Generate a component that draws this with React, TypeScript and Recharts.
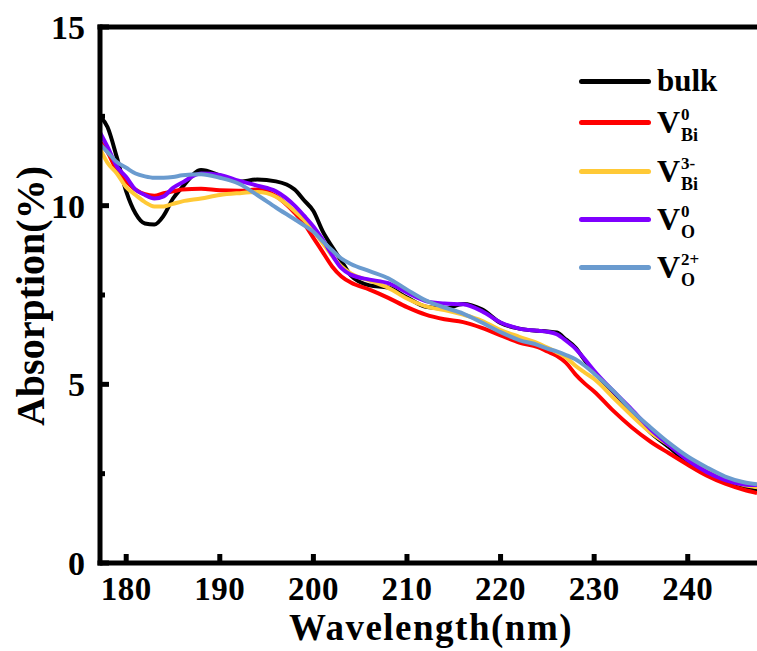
import React from 'react'
import { LineChart, Line, XAxis, YAxis, ReferenceLine } from 'recharts'

// wavelength grid (nm) and absorption (%)
const wavelength = [177.2, 178, 179, 180, 181, 182, 183, 184, 185, 186, 188, 190, 192, 194, 196, 198, 199, 200, 201, 202, 203, 204, 206, 208, 210, 212, 214, 216, 218, 220, 222, 224, 225, 226, 227, 228, 229, 230, 232, 234, 236, 238, 240, 242, 244, 246, 247.4]

const bulk = [12.5, 12.2, 11.35, 10.4, 9.78, 9.5, 9.47, 9.72, 10.2, 10.52, 11.0, 10.85, 10.67, 10.73, 10.68, 10.45, 10.15, 9.85, 9.28, 8.85, 8.45, 8.05, 7.77, 7.71, 7.43, 7.17, 7.12, 7.25, 7.1, 6.72, 6.56, 6.5, 6.48, 6.45, 6.25, 6.03, 5.67, 5.34, 4.8, 4.22, 3.66, 3.24, 2.82, 2.5, 2.25, 2.1, 2.02]
const vBi0 = [11.8, 11.5, 10.98, 10.68, 10.45, 10.32, 10.28, 10.35, 10.4, 10.45, 10.47, 10.43, 10.42, 10.45, 10.27, 9.8, 9.5, 9.1, 8.7, 8.3, 8.02, 7.85, 7.65, 7.42, 7.16, 6.95, 6.82, 6.74, 6.58, 6.37, 6.17, 6.04, 5.92, 5.8, 5.6, 5.28, 5.02, 4.8, 4.27, 3.8, 3.4, 3.07, 2.75, 2.45, 2.22, 2.05, 1.96]
const vBi3 = [11.6, 11.2, 10.9, 10.52, 10.3, 10.1, 9.98, 9.98, 10.05, 10.12, 10.2, 10.3, 10.35, 10.38, 10.25, 9.85, 9.6, 9.3, 8.95, 8.6, 8.3, 8.1, 7.9, 7.7, 7.4, 7.18, 7.08, 6.95, 6.78, 6.52, 6.33, 6.15, 6.03, 5.9, 5.75, 5.52, 5.33, 5.15, 4.64, 4.13, 3.66, 3.3, 2.93, 2.62, 2.35, 2.18, 2.12]
const vO0 = [12.05, 11.65, 11.1, 10.8, 10.45, 10.3, 10.2, 10.26, 10.5, 10.65, 10.9, 10.86, 10.7, 10.56, 10.4, 10.0, 9.72, 9.42, 9.05, 8.62, 8.25, 8.07, 7.93, 7.83, 7.57, 7.33, 7.26, 7.24, 7.05, 6.73, 6.56, 6.5, 6.47, 6.4, 6.22, 6.0, 5.7, 5.38, 4.82, 4.3, 3.75, 3.3, 2.88, 2.55, 2.32, 2.2, 2.18]
const vO2 = [11.72, 11.5, 11.22, 11.06, 10.9, 10.82, 10.78, 10.78, 10.8, 10.85, 10.88, 10.78, 10.62, 10.3, 9.95, 9.62, 9.45, 9.27, 9.0, 8.75, 8.52, 8.37, 8.17, 7.97, 7.65, 7.35, 7.15, 6.98, 6.73, 6.46, 6.24, 6.1, 6.0, 5.92, 5.82, 5.7, 5.52, 5.3, 4.83, 4.27, 3.8, 3.36, 2.98, 2.68, 2.42, 2.26, 2.2]

const xTicks = [180, 190, 200, 210, 220, 230, 240]
const yTicks = [0, 2.5, 5, 7.5, 10, 12.5, 15]

// sup / sub null => plain label
const series = [
  { key: 'bulk', color: '#000000', sup: null, sub: null },
  { key: 'vBi0', color: '#ff0000', sup: '0', sub: 'Bi' },
  { key: 'vBi3', color: '#ffc936', sup: '3-', sub: 'Bi' },
  { key: 'vO0', color: '#7f00ff', sup: '0', sub: 'O' },
  { key: 'vO2', color: '#6a9bcf', sup: '2+', sub: 'O' },
]

const data = wavelength.map((wl, i) => ({
  wl,
  bulk: bulk[i],
  vBi0: vBi0[i],
  vBi3: vBi3[i],
  vO0: vO0[i],
  vO2: vO2[i],
}))

const FONT = "'Liberation Serif', 'Times New Roman', serif"
const W = 757
const H = 651
const PLOT_LEFT = 100
const PLOT_TOP = 27
const PLOT_BOTTOM = 563

const rowCenters = [81, 122, 171, 219, 267]

const YTick = (props: any) => {
  const { y, payload } = props
  const v = payload.value
  const major = v % 5 === 0
  return (
    <g>
      <line x1={PLOT_LEFT} x2={PLOT_LEFT + (major ? 9 : 5)} y1={y} y2={y} stroke="#000" strokeWidth={5} />
      {major && (
        <text x={PLOT_LEFT - 15} y={y + 12} textAnchor="end" fontFamily={FONT} fontWeight="bold" fontSize={34} fill="#000">
          {v}
        </text>
      )}
    </g>
  )
}

const XTick = (props: any) => {
  const { x, payload } = props
  return (
    <g>
      <line x1={x} x2={x} y1={PLOT_BOTTOM} y2={PLOT_BOTTOM - 9} stroke="#000" strokeWidth={5} />
      <text x={x} y={600} textAnchor="middle" fontFamily={FONT} fontWeight="bold" fontSize={33} letterSpacing={0.5} fill="#000">
        {payload.value}
      </text>
    </g>
  )
}

function LegendBox() {
  return (
    <div style={{ position: 'absolute', left: 579, top: 0, fontFamily: FONT, fontWeight: 'bold', color: '#000' }}>
      {series.map((s, i) => (
        <div
          key={s.key}
          style={{ position: 'absolute', left: 0, top: rowCenters[i] - 20, height: 40, display: 'flex', alignItems: 'center', whiteSpace: 'nowrap' }}
        >
          <div style={{ width: 72, height: 5, background: s.color, borderRadius: 3, marginRight: 6 }} />
          {s.sup ? (
            <>
              <span style={{ fontSize: 32, lineHeight: '36px' }}>V</span>
              <span style={{ display: 'inline-flex', flexDirection: 'column', fontSize: 17, lineHeight: '20px', marginLeft: 1, transform: 'translateY(3px)' }}>
                <span>{s.sup}</span>
                <span style={{ fontSize: 18 }}>{s.sub}</span>
              </span>
            </>
          ) : (
            <span style={{ fontSize: 31, lineHeight: '36px' }}>{s.key}</span>
          )}
        </div>
      ))}
    </div>
  )
}

export default function App() {
  return (
    <div style={{ position: 'absolute', left: 0, top: 0, width: W, height: H, background: '#fff' }}>
      <LineChart width={W} height={H} data={data} margin={{ top: PLOT_TOP, right: 0, left: 0, bottom: 0 }}>
        <XAxis
          type="number"
          dataKey="wl"
          domain={[177.2, 247.4]}
          ticks={xTicks}
          interval={0}
          allowDataOverflow
          height={H - PLOT_BOTTOM}
          axisLine={{ stroke: '#000', strokeWidth: 5, strokeLinecap: 'square' }}
          tickLine={false}
          tick={XTick}
          label={{
            content: () => (
              <text x={431} y={640} textAnchor="middle" fontFamily={FONT} fontWeight="bold" fontSize={37} letterSpacing={1.5} fill="#000">
                Wavelength(nm)
              </text>
            ),
          }}
        />
        <YAxis
          type="number"
          domain={[0, 15]}
          ticks={yTicks}
          interval={0}
          allowDataOverflow
          width={PLOT_LEFT}
          axisLine={{ stroke: '#000', strokeWidth: 5, strokeLinecap: 'square' }}
          tickLine={false}
          tick={YTick}
          label={{
            content: () => (
              <text transform="rotate(-90)" x={-296} y={44} textAnchor="middle" fontFamily={FONT} fontWeight="bold" fontSize={40} fill="#000">
                Absorption(%)
              </text>
            ),
          }}
        />
        <ReferenceLine y={15} stroke="#000" strokeWidth={5} strokeLinecap="square" />
        {series.map((s) => (
          <Line
            key={s.key}
            type="monotone"
            dataKey={s.key}
            name={s.key}
            stroke={s.color}
            strokeWidth={4}
            dot={false}
            activeDot={false}
            isAnimationActive={false}
          />
        ))}
      </LineChart>
      <LegendBox />
    </div>
  )
}
